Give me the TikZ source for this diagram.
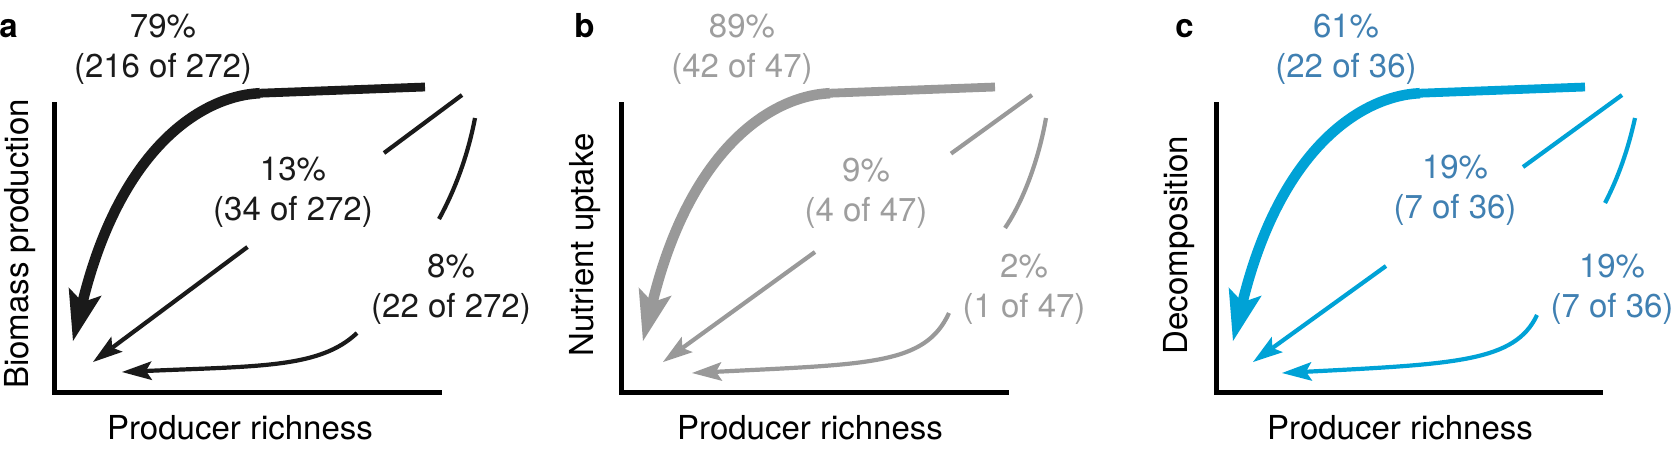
\documentclass[tikz,border=0pt]{standalone}
\usepackage{fontspec}
\setmainfont{TeX Gyre Heros}
\usetikzlibrary{arrows.meta}
\definecolor{ink}{RGB}{26,26,26}
\definecolor{grayc}{RGB}{153,153,153}
\definecolor{grayt}{RGB}{158,158,158}
\definecolor{bluec}{RGB}{0,162,214}
\definecolor{bluet}{RGB}{64,128,178}
\begin{document}
\begin{tikzpicture}[x=0.5pt,y=-0.5pt,
  lbl/.style={inner sep=0pt, anchor=base, font=\fontsize{16.5pt}{20pt}\selectfont},
  plbl/.style={inner sep=0pt, anchor=base west, font=\fontsize{16.5pt}{20pt}\selectfont\bfseries},
  ylbl/.style={lbl, rotate=90},
  axis/.style={line width=2.5pt, draw=black, line join=miter},
  thickline/.style={line width=4.4pt},
  thickarr/.style={line width=5.25pt, -{Stealth[length=25.5pt,width=17pt,inset=5.5pt,line width=0pt]}},
  thinarr/.style={line width=2.1pt, -{Stealth[length=15pt,width=9.5pt,inset=3pt,line width=0pt]}},
  thinline/.style={line width=2.1pt},
]
\useasboundingbox (0,0) rectangle (1675,450);

% ---------------- panel a ----------------
\node[plbl] (pa) at (-1,37) {a};
\draw[axis] (54.5,102) |- (442,392.5);
\node[ylbl] (ya) at (28,244) {Biomass production};
\node[lbl] (xa) at (240,439) {Producer richness};
\node[lbl, text=ink] (a1p) at (163,37) {79\%};
\node[lbl, text=ink] (a1n) at (163,77) {(216 of 272)};
\node[lbl, text=ink] (a2p) at (293,180) {13\%};
\node[lbl, text=ink] (a2n) at (293,220) {(34 of 272)};
\node[lbl, text=ink] (a3p) at (451,277) {8\%};
\node[lbl, text=ink] (a3n) at (451,317) {(22 of 272)};
\coordinate (aT0) at (425,87);
\coordinate (aT1) at (260,93.2);
\coordinate (aT2) at (73,341);
\draw[thickline, color=ink] (aT0) -- (aT1);
\draw[thickarr, color=ink] (aT1) .. controls (200,96) and (120,150) .. (aT2);
\coordinate (aM0) at (462,95);
\coordinate (aM1) at (384,153);
\coordinate (aM2) at (247.5,247);
\coordinate (aM3) at (93,362);
\draw[thinline, color=ink] (aM0) -- (aM1);
\draw[thinarr, color=ink] (aM2) -- (aM3);
\coordinate (aR0) at (475,118);
\coordinate (aR1) at (439,219);
\coordinate (aR2) at (357,333);
\coordinate (aR3) at (122,372);
\draw[thinline, color=ink] (aR0) .. controls (468,155) and (455,190) .. (aR1);
\draw[thinarr, color=ink] (aR2) .. controls (320,368) and (260,366) .. (aR3);

% ---------------- panel b ----------------
\node[plbl] (pb) at (574,37) {b};
\draw[axis] (621.5,102) |- (1009,392.5);
\node[ylbl] (yb) at (593,245) {Nutrient uptake};
\node[lbl] (xb) at (810,439) {Producer richness};
\node[lbl, text=grayt] (b1p) at (742,37) {89\%};
\node[lbl, text=grayt] (b1n) at (742,77) {(42 of 47)};
\node[lbl, text=grayt] (b2p) at (866,181) {9\%};
\node[lbl, text=grayt] (b2n) at (866,221) {(4 of 47)};
\node[lbl, text=grayt] (b3p) at (1024,277) {2\%};
\node[lbl, text=grayt] (b3n) at (1024,317) {(1 of 47)};
\coordinate (bT0) at (995,87);
\coordinate (bT1) at (830,93.2);
\coordinate (bT2) at (643,341);
\draw[thickline, color=grayc] (bT0) -- (bT1);
\draw[thickarr, color=grayc] (bT1) .. controls (770,96) and (690,150) .. (bT2);
\coordinate (bM0) at (1032,95);
\coordinate (bM1) at (951,153.6);
\coordinate (bM2) at (815,252);
\coordinate (bM3) at (663,362);
\draw[thinline, color=grayc] (bM0) -- (bM1);
\draw[thinarr, color=grayc] (bM2) -- (bM3);
\coordinate (bR0) at (1046,118);
\coordinate (bR1) at (1005,228);
\coordinate (bR2) at (949,313);
\coordinate (bR3) at (692,373);
\draw[thinline, color=grayc] (bR0) .. controls (1039,158) and (1024,200) .. (bR1);
\draw[thinarr, color=grayc] (bR2) .. controls (925,365) and (870,364) .. (bR3);

% ---------------- panel c ----------------
\node[plbl] (pc) at (1175,37) {c};
\draw[axis] (1216,102) |- (1603,392.5);
\node[ylbl] (yc) at (1187,245) {Decomposition};
\node[lbl] (xc) at (1400,439) {Producer richness};
\node[lbl, text=bluet] (c1p) at (1346,37) {61\%};
\node[lbl, text=bluet] (c1n) at (1346,77) {(22 of 36)};
\node[lbl, text=bluet] (c2p) at (1455,178) {19\%};
\node[lbl, text=bluet] (c2n) at (1455,218) {(7 of 36)};
\node[lbl, text=bluet] (c3p) at (1612,277) {19\%};
\node[lbl, text=bluet] (c3n) at (1612,317) {(7 of 36)};
\coordinate (cT0) at (1585,87);
\coordinate (cT1) at (1420,93.2);
\coordinate (cT2) at (1233,341);
\draw[thickline, color=bluec] (cT0) -- (cT1);
\draw[thickarr, color=bluec] (cT1) .. controls (1360,96) and (1280,150) .. (cT2);
\coordinate (cM0) at (1622,95);
\coordinate (cM1) at (1523,167);
\coordinate (cM2) at (1386,266);
\coordinate (cM3) at (1253,362);
\draw[thinline, color=bluec] (cM0) -- (cM1);
\draw[thinarr, color=bluec] (cM2) -- (cM3);
\coordinate (cR0) at (1635,118);
\coordinate (cR1) at (1605,203);
\coordinate (cR2) at (1537,315);
\coordinate (cR3) at (1282,373);
\draw[thinline, color=bluec] (cR0) .. controls (1628,150) and (1618,178) .. (cR1);
\draw[thinarr, color=bluec] (cR2) .. controls (1515,362) and (1455,364) .. (cR3);
\end{tikzpicture}
\end{document}
